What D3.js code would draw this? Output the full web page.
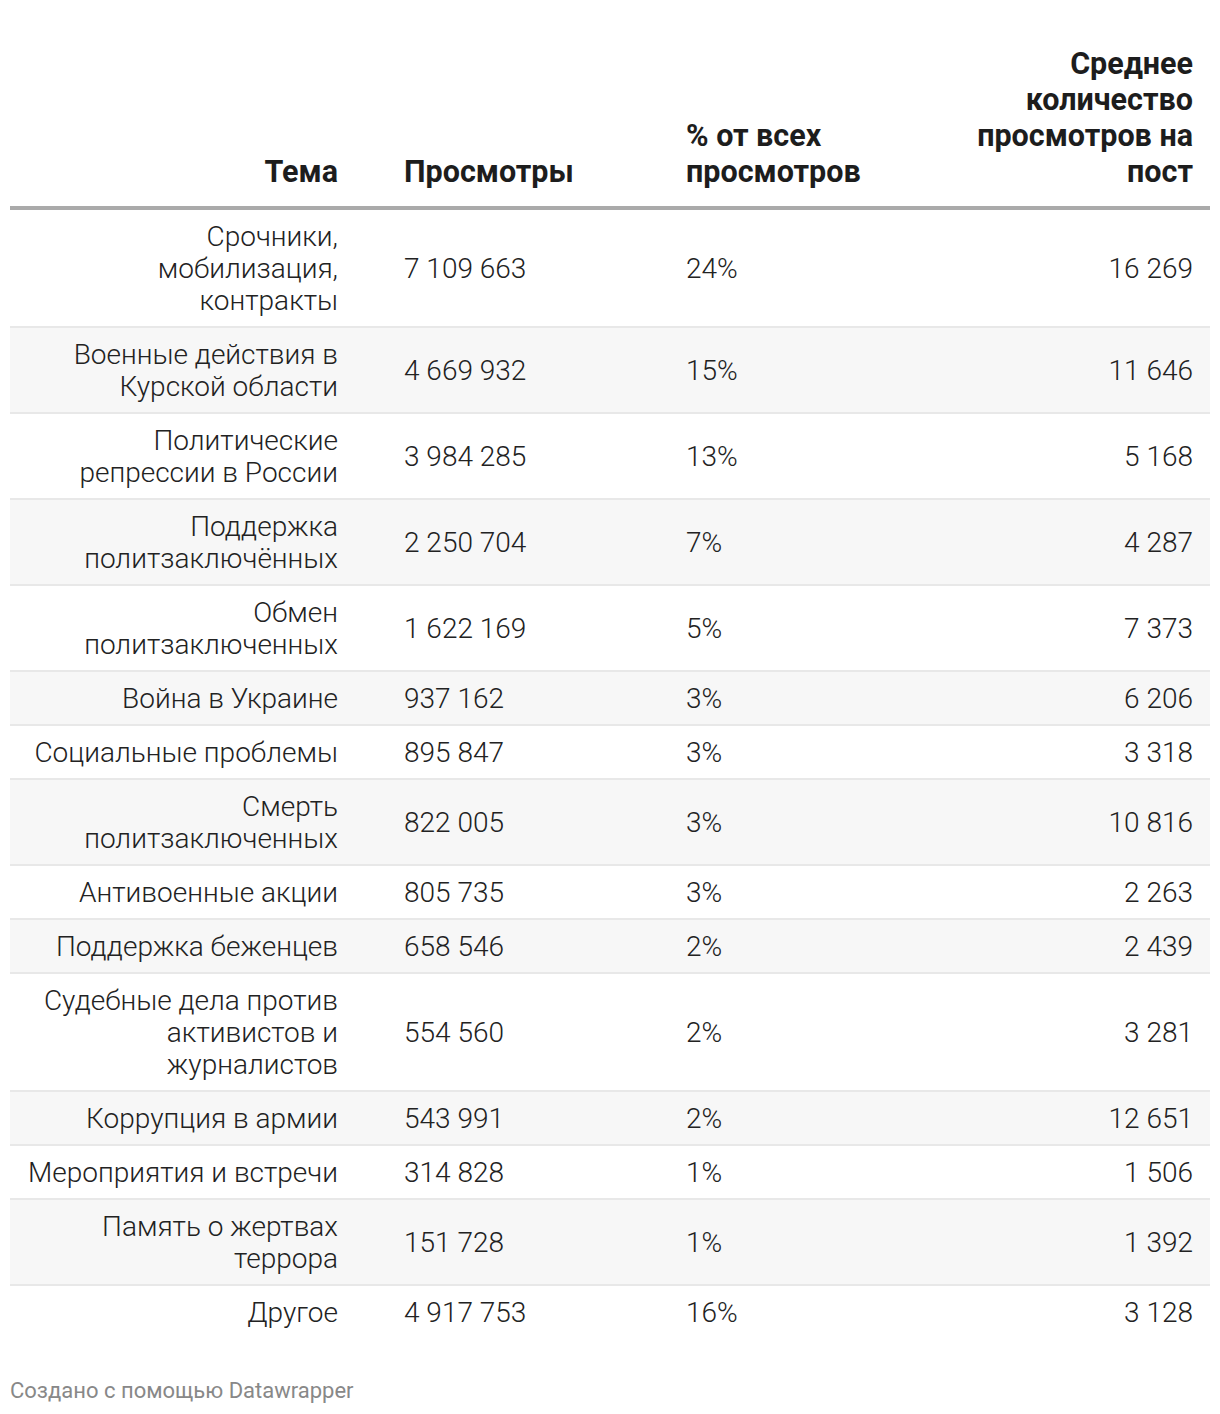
<!DOCTYPE html>
<html>
<head>
<meta charset="utf-8">
<script src="https://cdn.jsdelivr.net/npm/d3@7"></script>
<style>
  html, body { margin: 0; padding: 0; background: #fff; }
  svg { display: block; }
</style>
</head>
<body>
<svg id="chart" width="1220" height="1414"></svg>
<script>
// ---- Data ----
const headers = [
  ["Тема"],
  ["Просмотры"],
  ["% от всех", "просмотров"],
  ["Среднее", "количество", "просмотров на", "пост"]
];
const topics = [
  ["Срочники,", "мобилизация,", "контракты"],
  ["Военные действия в", "Курской области"],
  ["Политические", "репрессии в России"],
  ["Поддержка", "политзаключённых"],
  ["Обмен", "политзаключенных"],
  ["Война в Украине"],
  ["Социальные проблемы"],
  ["Смерть", "политзаключенных"],
  ["Антивоенные акции"],
  ["Поддержка беженцев"],
  ["Судебные дела против", "активистов и", "журналистов"],
  ["Коррупция в армии"],
  ["Мероприятия и встречи"],
  ["Память о жертвах", "террора"],
  ["Другое"]
];
const views = [7109663, 4669932, 3984285, 2250704, 1622169, 937162, 895847, 822005, 805735, 658546, 554560, 543991, 314828, 151728, 4917753];
const shares = [24, 15, 13, 7, 5, 3, 3, 3, 3, 2, 2, 2, 1, 1, 16];
const avgPerPost = [16269, 11646, 5168, 4287, 7373, 6206, 3318, 10816, 2263, 2439, 3281, 12651, 1506, 1392, 3128];
const footer = "Создано с помощью Datawrapper";

// ---- Layout ----
const svg = d3.select("#chart");
const left = 10, right = 1210;
const headerBottom = 206;
const lineH = 32, pad = 11;
const bodyFont = 28, headFont = 30.5, headLineH = 36;

const fmt = d3.formatLocale({decimal: ",", thousands: "\u2009", grouping: [3], currency: ["", ""]}).format(",d");
const fmtNum = v => fmt(v).replace(/\u2009/g, " ");

const rows = topics.map((t, i) => ({
  topic: t, views: views[i], share: shares[i], avg: avgPerPost[i],
  h: t.length * lineH + 2 * pad
}));
let acc = headerBottom + 4;
rows.forEach(r => { r.y0 = acc; acc += r.h; });

// columns: anchor x & alignment
const cols = [
  {x: 338, anchor: "end"},
  {x: 404, anchor: "start"},
  {x: 686, anchor: "start"},
  {x: 1193, anchor: "end"}
];

// header
const hg = svg.append("g").attr("font-family", "Roboto, sans-serif")
  .attr("font-weight", 700).attr("font-size", headFont).attr("fill", "#1d1d1d");
headers.forEach((lines, ci) => {
  const n = lines.length;
  const t = hg.append("text").attr("text-anchor", cols[ci].anchor);
  lines.forEach((ln, li) => {
    t.append("tspan").attr("x", cols[ci].x)
      .attr("y", 182 - (n - 1 - li) * headLineH).text(ln);
  });
});

// header rule
svg.append("rect").attr("x", left).attr("y", headerBottom).attr("width", right - left)
  .attr("height", 4).attr("fill", "#aaaaaa");

// rows
const rg = svg.append("g").selectAll("g").data(rows).join("g")
  .attr("transform", d => `translate(0,${d.y0})`);

rg.append("rect").attr("x", left).attr("y", 0).attr("width", right - left)
  .attr("height", d => d.h).attr("fill", (d, i) => i % 2 === 1 ? "#f7f7f7" : "#ffffff");

rg.filter((d, i) => i < rows.length - 1).append("rect")
  .attr("x", left).attr("y", d => d.h - 2).attr("width", right - left).attr("height", 2)
  .attr("fill", "#e8e8e8");

const textG = rg.append("g").attr("font-family", "Roboto, sans-serif")
  .attr("font-weight", 300).attr("font-size", bodyFont).attr("fill", "#222222");

// topic (multi-line)
textG.append("text").attr("text-anchor", cols[0].anchor)
  .each(function(d) {
    const n = d.topic.length;
    const mid = (d.h - 1) / 2;
    d3.select(this).selectAll("tspan").data(d.topic).join("tspan")
      .attr("x", cols[0].x)
      .attr("y", (ln, li) => mid + (li - (n - 1) / 2) * lineH)
      .attr("dy", "0.35em")
      .text(ln => ln);
  });

const cellText = [d => fmtNum(d.views), d => d.share + "%", d => fmtNum(d.avg)];
cellText.forEach((fn, k) => {
  textG.append("text").attr("x", cols[k + 1].x).attr("y", d => (d.h - 1) / 2)
    .attr("dy", "0.35em").attr("text-anchor", cols[k + 1].anchor).text(fn);
});

// footer
svg.append("text").attr("x", 10).attr("y", 1390).attr("dy", "0.35em")
  .attr("font-family", "Roboto, sans-serif").attr("font-size", 22)
  .attr("fill", "#888888").text(footer);
</script>
</body>
</html>
